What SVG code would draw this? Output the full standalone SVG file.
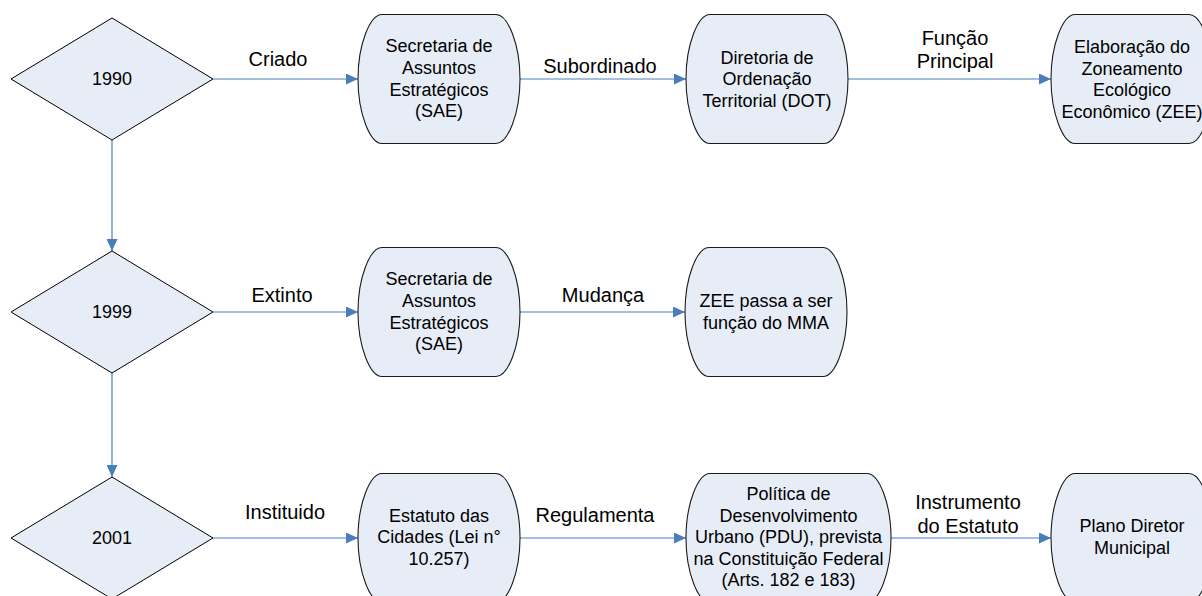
<svg xmlns="http://www.w3.org/2000/svg" width="1202" height="596" viewBox="0 0 1202 596">
<defs>
<style>
.d{fill:#E7EDF7;stroke:#000;stroke-width:1}
.n{fill:#E7EDF7;stroke:#1a1a1a;stroke-width:1.1}
.t{font-family:"Liberation Sans",Arial,sans-serif;font-size:18px;fill:#000;text-anchor:middle}
.l{font-family:"Liberation Sans",Arial,sans-serif;font-size:20px;fill:#000;text-anchor:middle}
.c{stroke:#4A7EBB;stroke-width:1.2;fill:none;marker-end:url(#ah)}
</style>
<marker id="ah" viewBox="0 0 12 11" refX="12" refY="5.5" markerWidth="12" markerHeight="11" orient="auto" markerUnits="userSpaceOnUse">
<path d="M0,0 L12,5.5 L0,11 z" fill="#4A7EBB"/>
</marker>
</defs>
<rect width="1202" height="596" fill="#fff"/>

<g id="connectors">
<line class="c" x1="213" y1="79" x2="358" y2="79"/>
<line class="c" x1="520" y1="79" x2="686" y2="79"/>
<line class="c" x1="848" y1="79" x2="1051" y2="79"/>
<line class="c" x1="112" y1="140" x2="112" y2="251"/>
<line class="c" x1="213" y1="312" x2="358" y2="312"/>
<line class="c" x1="520" y1="312" x2="685" y2="312"/>
<line class="c" x1="112" y1="373" x2="112" y2="477"/>
<line class="c" x1="213" y1="538" x2="358" y2="538"/>
<line class="c" x1="520" y1="538" x2="686" y2="538"/>
<line class="c" x1="891" y1="538" x2="1051" y2="538"/>
<text class="l" x="278" y="66">Criado</text>
<text class="l" x="600" y="73">Subordinado</text>
<text class="l" x="955" y="45">Função</text>
<text class="l" x="955" y="68">Principal</text>
<text class="l" x="282" y="302">Extinto</text>
<text class="l" x="603" y="302">Mudança</text>
<text class="l" x="285" y="519">Instituido</text>
<text class="l" x="595" y="522">Regulamenta</text>
<text class="l" x="968" y="509">Instrumento</text>
<text class="l" x="968" y="533">do Estatuto</text>
</g>

<g id="d1990">
<polygon class="d" points="11,79 112,18 213,79 112,140"/>
<text class="t" x="112" y="85">1990</text>
</g>
<g id="sae1">
<path class="n" d="M382,14.5 h114 c12,0 24,30 24,64.5 c0,34.5 -12,64.5 -24,64.5 h-114 c-12,0 -24,-30 -24,-64.5 c0,-34.5 12,-64.5 24,-64.5 z"/>
<text class="t" x="439" y="52">Secretaria de</text>
<text class="t" x="439" y="74">Assuntos</text>
<text class="t" x="439" y="95.5">Estratégicos</text>
<text class="t" x="439" y="117">(SAE)</text>
</g>
<g id="dot">
<path class="n" d="M710,14.5 h114 c12,0 24,30 24,64.5 c0,34.5 -12,64.5 -24,64.5 h-114 c-12,0 -24,-30 -24,-64.5 c0,-34.5 12,-64.5 24,-64.5 z"/>
<text class="t" x="767" y="63.5">Diretoria de</text>
<text class="t" x="767" y="85">Ordenação</text>
<text class="t" x="767" y="106.5">Territorial (DOT)</text>
</g>
<g id="zee">
<path class="n" d="M1075,14.5 h114 c12,0 24,30 24,64.5 c0,34.5 -12,64.5 -24,64.5 h-114 c-12,0 -24,-30 -24,-64.5 c0,-34.5 12,-64.5 24,-64.5 z"/>
<text class="t" x="1132" y="53">Elaboração do</text>
<text class="t" x="1132" y="74.5">Zoneamento</text>
<text class="t" x="1132" y="96">Ecológico</text>
<text class="t" x="1132" y="117.5">Econômico (ZEE)</text>
</g>

<g id="d1999">
<polygon class="d" points="11,312 112,251 213,312 112,373"/>
<text class="t" x="112" y="318">1999</text>
</g>
<g id="sae2">
<path class="n" d="M382,247.5 h114 c12,0 24,30 24,64.5 c0,34.5 -12,64.5 -24,64.5 h-114 c-12,0 -24,-30 -24,-64.5 c0,-34.5 12,-64.5 24,-64.5 z"/>
<text class="t" x="439" y="285">Secretaria de</text>
<text class="t" x="439" y="307">Assuntos</text>
<text class="t" x="439" y="328.5">Estratégicos</text>
<text class="t" x="439" y="350">(SAE)</text>
</g>
<g id="zeemma">
<path class="n" d="M709,247.5 h114 c12,0 24,30 24,64.5 c0,34.5 -12,64.5 -24,64.5 h-114 c-12,0 -24,-30 -24,-64.5 c0,-34.5 12,-64.5 24,-64.5 z"/>
<text class="t" x="766" y="307">ZEE passa a ser</text>
<text class="t" x="766" y="328.5">função do MMA</text>
</g>

<g id="d2001">
<polygon class="d" points="11,538 112,477 213,538 112,599"/>
<text class="t" x="112" y="544">2001</text>
</g>
<g id="estatuto">
<path class="n" d="M382,473.5 h114 c12,0 24,30 24,64.5 c0,34.5 -12,64.5 -24,64.5 h-114 c-12,0 -24,-30 -24,-64.5 c0,-34.5 12,-64.5 24,-64.5 z"/>
<text class="t" x="439" y="521.5">Estatuto das</text>
<text class="t" x="439" y="543">Cidades (Lei n°</text>
<text class="t" x="439" y="564.5">10.257)</text>
</g>
<g id="pdu">
<path class="n" d="M710,473.5 h157 c12,0 24,30 24,64.5 c0,34.5 -12,64.5 -24,64.5 h-157 c-12,0 -24,-30 -24,-64.5 c0,-34.5 12,-64.5 24,-64.5 z"/>
<text class="t" x="788.5" y="500">Política de</text>
<text class="t" x="788.5" y="521.5">Desenvolvimento</text>
<text class="t" x="788.5" y="543">Urbano (PDU), prevista</text>
<text class="t" x="788.5" y="564.5">na Constituição Federal</text>
<text class="t" x="788.5" y="586">(Arts. 182 e 183)</text>
</g>
<g id="plano">
<path class="n" d="M1075,473.5 h114 c12,0 24,30 24,64.5 c0,34.5 -12,64.5 -24,64.5 h-114 c-12,0 -24,-30 -24,-64.5 c0,-34.5 12,-64.5 24,-64.5 z"/>
<text class="t" x="1132" y="532">Plano Diretor</text>
<text class="t" x="1132" y="553.5">Municipal</text>
</g>
</svg>
